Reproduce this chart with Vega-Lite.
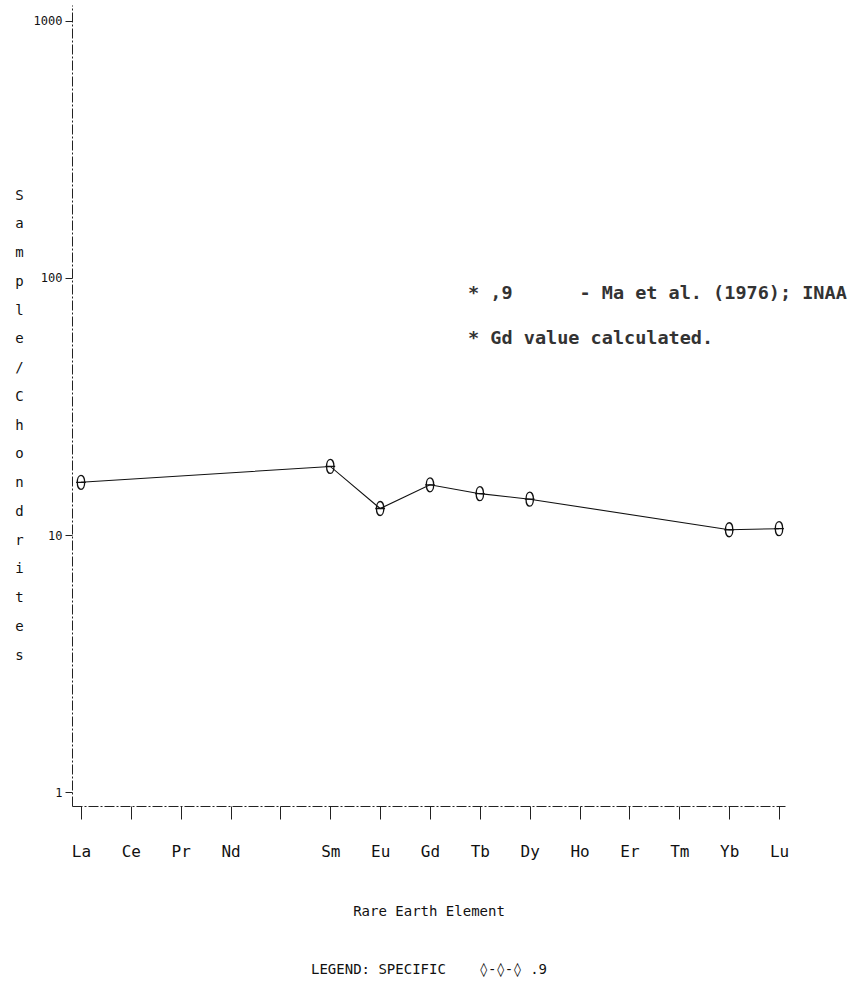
{
  "$schema": "https://vega.github.io/schema/vega-lite/v6.json",
  "autosize": {"type": "none"},
  "padding": {"left": 72, "top": 5, "right": 75, "bottom": 177},
  "width": 713,
  "height": 801,
  "background": "white",
  "config": {
    "view": {"stroke": null},
    "font": "DejaVu Sans Mono",
    "axis": {"grid": false, "domainColor": "#222", "tickColor": "#222", "labelColor": "#111", "titleColor": "#111", "titleFontWeight": "normal"}
  },
  "datasets": {
    "ree": [
      {"element": "La", "z": 57, "v": 16.05},
      {"element": "Sm", "z": 62, "v": 18.5},
      {"element": "Eu", "z": 63, "v": 12.7},
      {"element": "Gd", "z": 64, "v": 15.7},
      {"element": "Tb", "z": 65, "v": 14.5},
      {"element": "Dy", "z": 66, "v": 13.8},
      {"element": "Yb", "z": 70, "v": 10.5},
      {"element": "Lu", "z": 71, "v": 10.6}
    ],
    "notes": [
      {"z": 64.764, "v": 87.35, "label": "* ,9\u00a0\u00a0\u00a0\u00a0\u00a0\u00a0- Ma et al. (1976); INAA"},
      {"z": 64.764, "v": 58.4, "label": "* Gd value calculated."}
    ]
  },
  "layer": [
    {
      "data": {"name": "ree"},
      "mark": {"type": "line", "color": "#111", "strokeWidth": 1.1},
      "encoding": {
        "x": {
          "field": "z", "type": "quantitative",
          "scale": {"domain": [56.82, 71.12], "nice": false, "zero": false},
          "axis": {
            "values": [57, 58, 59, 60, 61, 62, 63, 64, 65, 66, 67, 68, 69, 70, 71],
            "labelExpr": "['La','Ce','Pr','Nd','','Sm','Eu','Gd','Tb','Dy','Ho','Er','Tm','Yb','Lu'][datum.value - 57]",
            "tickSize": 13,
            "labelFontSize": 16,
            "labelPadding": 24,
            "domainDash": [10, 2, 2, 2],
            "title": ["Rare Earth Element", "LEGEND:\u00a0SPECIFIC\u00a0\u00a0\u00a0\u00a0◊-◊-◊\u00a0.9"],
            "titleFontSize": 14,
            "titleLineHeight": 58,
            "titleX": 356.5,
            "titleY": 109,
            "titleAlign": "center",
            "titleBaseline": "alphabetic"
          }
        },
        "y": {
          "field": "v", "type": "quantitative",
          "scale": {"type": "log", "domain": [0.886, 1150], "nice": false},
          "axis": {
            "values": [1, 10, 100, 1000],
            "format": "d",
            "tickSize": 7,
            "labelPadding": 3,
            "labelFontSize": 12,
            "domainDash": [10, 2, 2, 2],
            "title": ["S", "a", "m", "p", "l", "e", "/", "C", "h", "o", "n", "d", "r", "i", "t", "e", "s"],
            "titleAngle": 0,
            "titleFontSize": 14,
            "titleLineHeight": 28.75,
            "titleX": -53,
            "titleY": 194,
            "titleAlign": "center",
            "titleBaseline": "alphabetic"
          }
        }
      }
    },
    {
      "data": {"name": "ree"},
      "mark": {
        "type": "point",
        "shape": "M0,-1C0.7,-1 0.7,1 0,1C-0.7,1 -0.7,-1 0,-1Z M-0.7,0L0.7,0",
        "size": 196,
        "filled": false,
        "stroke": "#111",
        "strokeWidth": 1.3,
        "opacity": 1
      },
      "encoding": {
        "x": {"field": "z", "type": "quantitative"},
        "y": {"field": "v", "type": "quantitative"}
      }
    },
    {
      "data": {"name": "notes"},
      "mark": {"type": "text", "align": "left", "baseline": "middle", "fontSize": 18.5, "fontWeight": "bold", "color": "#333", "font": "DejaVu Sans Mono"},
      "encoding": {
        "x": {"field": "z", "type": "quantitative"},
        "y": {"field": "v", "type": "quantitative"},
        "text": {"field": "label"}
      }
    }
  ]
}
